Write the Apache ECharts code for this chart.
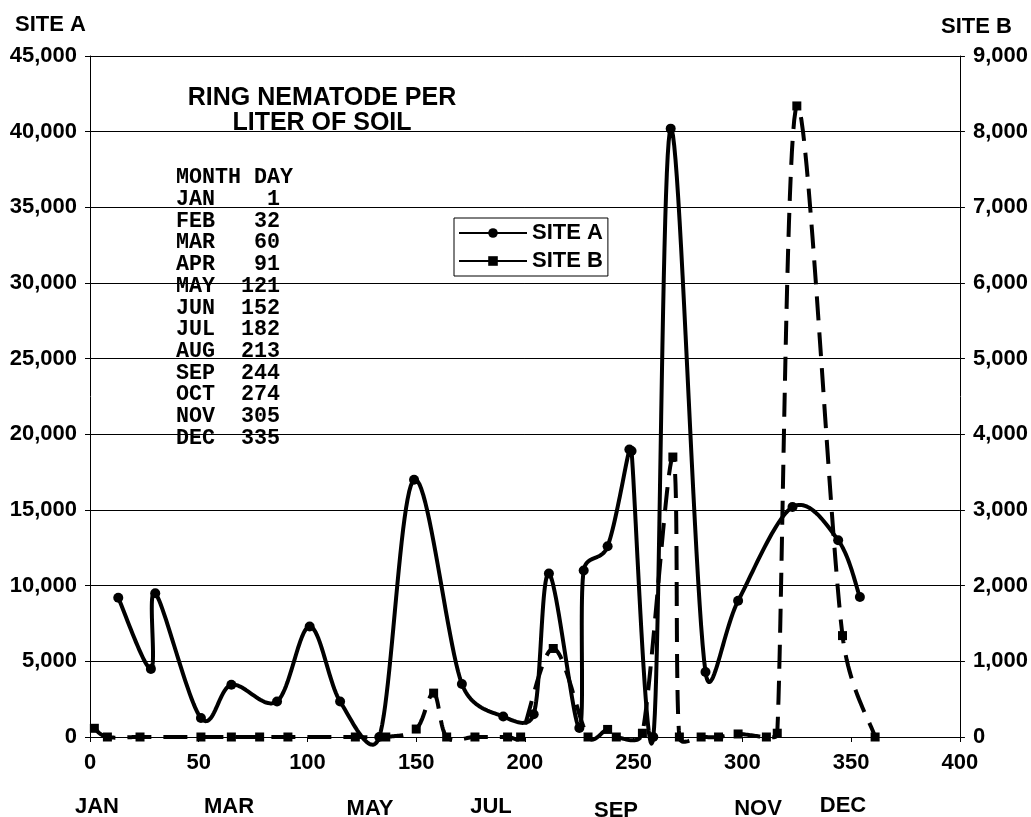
<!DOCTYPE html>
<html>
<head>
<meta charset="utf-8">
<script src="https://cdn.jsdelivr.net/npm/echarts@6/dist/echarts.min.js"></script>
<style>
  html, body { margin: 0; padding: 0; background: #fff; }
  #chart { width: 1031px; height: 817px; }
</style>
</head>
<body>
<div id="chart"></div>
<script>
// site A: [day, nematodes per liter] (left axis)
var siteA = [
  [13, 9200], [28, 4500], [30, 9500], [51, 1250], [65, 3450], [86, 2350],
  [101, 7300], [115, 2350], [133, 0], [149, 17000], [171, 3500], [190, 1350],
  [204, 1500], [211, 10800], [225, 600], [227, 11000], [238, 12600],
  [248, 19000], [249, 18900], [259, 0], [267, 40200], [283, 4300],
  [298, 9000], [323, 15200], [344, 13000], [354, 9250]
];
// site B: [day, nematodes per liter] (right axis)
var siteB = [
  [2, 115], [8, 0], [23, 0], [51, 0], [65, 0], [78, 0], [91, 0], [122, 0],
  [136, 0], [150, 105], [158, 580], [164, 0], [177, 0], [192, 0], [198, 0],
  [213, 1170], [229, 0], [238, 100], [242, 0], [254, 50], [268, 3700],
  [271, 0], [281, 0], [289, 0], [298, 40], [311, 0], [316, 50], [325, 8340],
  [346, 1340], [361, 0]
];
var months = ["JAN", "FEB", "MAR", "APR", "MAY", "JUN", "JUL", "AUG", "SEP", "OCT", "NOV", "DEC"];
var monthDays = [1, 32, 60, 91, 121, 152, 182, 213, 244, 274, 305, 335];
// month names under the x axis
var bottomMonths = ["JAN", "MAR", "MAY", "JUL", "SEP", "NOV", "DEC"];
var bottomMonthPos = [[97, 807], [229, 807], [370, 809], [491, 807], [616, 811], [758, 809], [843, 806]];

var FONT = "Liberation Sans, Arial, sans-serif";

function comma(v) {
  return String(v).replace(/\B(?=(\d{3})+(?!\d))/g, ",");
}

// month / day table as monospace text
var tableLines = ["MONTH DAY"];
for (var i = 0; i < months.length; i++) {
  var d = String(monthDays[i]);
  tableLines.push(months[i] + "        ".slice(0, 8 - months[i].length - d.length) + d);
}

function dist(a, b) {
  return Math.sqrt((a[0] - b[0]) * (a[0] - b[0]) + (a[1] - b[1]) * (a[1] - b[1]));
}

// spreadsheet style smoothing: bezier arms = chord/6, capped at half the segment
function smoothRender(data, dashed) {
  return function (params, api) {
    if (params.dataIndex !== 0) return null;
    var p = data.map(function (v) { return api.coord(v); });
    var out = [p[0]];
    for (var i = 0; i < p.length - 1; i++) {
      var p0 = p[i - 1] || p[i], p1 = p[i], p2 = p[i + 1], p3 = p[i + 2] || p[i + 1];
      var d12 = dist(p1, p2), d02 = dist(p0, p2), d13 = dist(p1, p3);
      var f0 = d02 > 0 ? Math.min(1 / 6, d12 / d02 / 2) : 0;
      var f1 = d13 > 0 ? Math.min(1 / 6, d12 / d13 / 2) : 0;
      var c1 = [p1[0] + (p2[0] - p0[0]) * f0, p1[1] + (p2[1] - p0[1]) * f0];
      var c2 = [p2[0] - (p3[0] - p1[0]) * f1, p2[1] - (p3[1] - p1[1]) * f1];
      for (var k = 1; k <= 24; k++) {
        var t = k / 24, u = 1 - t;
        out.push([
          u * u * u * p1[0] + 3 * u * u * t * c1[0] + 3 * u * t * t * c2[0] + t * t * t * p2[0],
          u * u * u * p1[1] + 3 * u * u * t * c1[1] + 3 * u * t * t * c2[1] + t * t * t * p2[1]
        ]);
      }
    }
    return {
      type: "polyline",
      shape: { points: out },
      style: { stroke: "#000", lineWidth: 4, fill: null, lineDash: dashed ? [24, 12] : null, lineJoin: "round" }
    };
  };
}

var graphics = [
  { type: "text", left: 15, top: 14, style: { text: "SITE A", font: "bold 22px " + FONT, fill: "#000" } },
  { type: "text", left: 941, top: 16, style: { text: "SITE B", font: "bold 22px " + FONT, fill: "#000" } },
  { type: "text", x: 322, y: 86, style: { text: "RING NEMATODE PER\nLITER OF SOIL", font: "bold 25px " + FONT,
      textAlign: "center", textVerticalAlign: "top", lineHeight: 25, fill: "#000" } },
  { type: "text", x: 176, y: 167, style: { text: tableLines.join("\n"), font: "bold 21.7px Liberation Mono, Courier New, monospace",
      textVerticalAlign: "top", lineHeight: 21.7, fill: "#000" } }
];
bottomMonths.forEach(function (m, i) {
  graphics.push({ type: "text", x: bottomMonthPos[i][0], y: bottomMonthPos[i][1],
    style: { text: m, font: "bold 22px " + FONT, textAlign: "center", textVerticalAlign: "middle", fill: "#000" } });
});

var chart = echarts.init(document.getElementById("chart"));
chart.setOption({
  animation: false,
  backgroundColor: "#fff",
  grid: { left: 90, right: 70, top: 56, bottom: 80 },
  legend: {
    left: 454, top: 218,
    orient: "vertical",
    backgroundColor: "#fff",
    borderColor: "#000",
    borderWidth: 1,
    padding: [4, 5, 4, 4],
    itemWidth: 68,
    itemHeight: 12,
    itemGap: 6,
    textStyle: { fontFamily: FONT, fontWeight: "bold", fontSize: 22, color: "#000" },
    data: [
      { name: "SITE A", lineStyle: { opacity: 1, width: 2, color: "#000", type: "solid" } },
      { name: "SITE B", lineStyle: { opacity: 1, width: 2, color: "#000", type: "solid" } }
    ]
  },
  xAxis: {
    type: "value",
    min: 0, max: 400, interval: 50,
    axisLine: { onZero: false, lineStyle: { color: "#000", width: 1 } },
    axisTick: { show: true, length: 5, lineStyle: { color: "#000" } },
    axisLabel: { margin: 15, fontFamily: FONT, fontWeight: "bold", fontSize: 22, color: "#000" },
    splitLine: { show: false }
  },
  yAxis: [
    {
      type: "value",
      min: 0, max: 45000, interval: 5000,
      axisLine: { show: true, lineStyle: { color: "#000", width: 1 } },
      axisTick: { show: true, length: 5, lineStyle: { color: "#000" } },
      axisLabel: { margin: 13, fontFamily: FONT, fontWeight: "bold", fontSize: 22, color: "#000", formatter: comma },
      splitLine: { show: true, lineStyle: { color: "#000", width: 1 } }
    },
    {
      type: "value",
      position: "right",
      min: 0, max: 9000, interval: 1000,
      axisLine: { show: true, lineStyle: { color: "#000", width: 1 } },
      axisTick: { show: true, length: 5, lineStyle: { color: "#000" } },
      axisLabel: { margin: 13, fontFamily: FONT, fontWeight: "bold", fontSize: 22, color: "#000", formatter: comma },
      splitLine: { show: false }
    }
  ],
  series: [
    {
      name: "SITE A curve",
      type: "custom",
      yAxisIndex: 0,
      data: siteA,
      renderItem: smoothRender(siteA, false),
      silent: true,
      z: 2
    },
    {
      name: "SITE B curve",
      type: "custom",
      yAxisIndex: 1,
      data: siteB,
      renderItem: smoothRender(siteB, true),
      silent: true,
      z: 2
    },
    {
      name: "SITE A",
      type: "line",
      yAxisIndex: 0,
      data: siteA,
      showAllSymbol: true,
      symbol: "circle",
      symbolSize: 10,
      itemStyle: { color: "#000" },
      lineStyle: { opacity: 0 },
      z: 4
    },
    {
      name: "SITE B",
      type: "line",
      yAxisIndex: 1,
      data: siteB,
      showAllSymbol: true,
      symbol: "rect",
      symbolSize: 9,
      itemStyle: { color: "#000" },
      lineStyle: { opacity: 0 },
      z: 3
    }
  ],
  graphic: graphics
});
</script>
</body>
</html>
